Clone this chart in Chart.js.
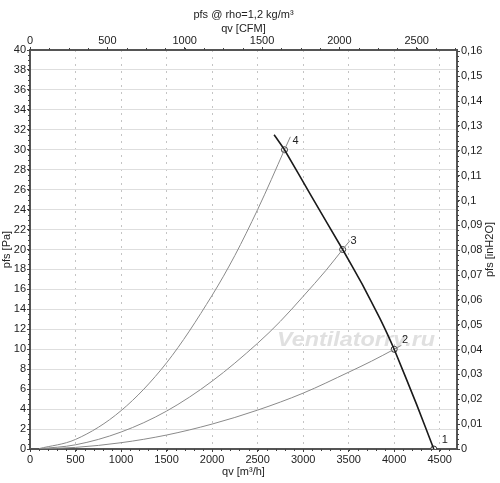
<!DOCTYPE html>
<html lang="ru">
<head>
    <meta charset="UTF-8">
    <title>pfs @ rho=1,2 kg/m³</title>
    <script src="https://cdn.jsdelivr.net/npm/chart.js"></script>
    <style>
        html, body {
            margin: 0;
            padding: 0;
            background: #fff;
        }

        .chart-box {
            width: 500px;
            height: 483px;
        }
    </style>
</head>
<body>
<div class="chart-box">
    <canvas id="fanChart" width="500" height="483"></canvas>
</div>
<script>
    // рабочая характеристика вентилятора (qv м3/ч, pfs Па)
    const fanQ = [2681, 2795, 3100, 3434, 3650, 3843, 4000, 4245, 4435];
    const fanP = [31.5, 30, 25.2, 20, 16.5, 13.1, 10, 4.5, 0];

    // кривые сети через точки 4, 3, 2
    const sys4Q = [100, 500, 1000, 1500, 2000, 2250, 2500, 2650, 2795, 2860];
    const sys4P = [0.04, 0.96, 3.84, 8.64, 15.4, 19.4, 24.0, 27.0, 30, 31.3];
    const sys3Q = [100, 500, 1000, 1500, 2000, 2500, 2750, 3000, 3250, 3434, 3515];
    const sys3P = [0.02, 0.42, 1.7, 3.8, 6.8, 10.6, 12.8, 15.3, 17.9, 20, 20.9];
    const sys2Q = [100, 500, 1000, 1500, 2000, 2500, 3000, 3500, 3750, 4000, 4080];
    const sys2P = [0.01, 0.16, 0.63, 1.4, 2.5, 3.9, 5.6, 7.7, 8.8, 10, 10.4];

    // рабочие точки
    const pointNames = ['1', '2', '3', '4'];
    const pointQ = [4435, 4000, 3434, 2795];
    const pointP = [0, 10, 20, 30];

    // деления осей
    const qvTicks = [0, 500, 1000, 1500, 2000, 2500, 3000, 3500, 4000, 4500];
    const cfmTicks = [0, 500, 1000, 1500, 2000, 2500];
    const paTicks = [0, 2, 4, 6, 8, 10, 12, 14, 16, 18, 20, 22, 24, 26, 28, 30, 32, 34, 36, 38, 40];
    const inH2OTicks = [0, 0.01, 0.02, 0.03, 0.04, 0.05, 0.06, 0.07, 0.08, 0.09, 0.1,
        0.11, 0.12, 0.13, 0.14, 0.15, 0.16];

    const qvMax = 4690;          // м3/ч
    const pfsMax = 40;           // Па
    const cfmPerM3h = 1 / 1.699;
    const inH2OPerPa = 1 / 249.09;

    const toXY = (qs, ps) => qs.map((q, i) => ({x: q, y: ps[i]}));
    const comma = v => String(Number(v.toFixed(3))).replace('.', ',');
    const tickFont = {family: 'Liberation Sans, Arial, sans-serif', size: 11};

    const fixSize = (w, h) => scale => {
        if (w) scale.width = w;
        if (h) scale.height = h;
    };
    const useTicks = list => scale => {
        scale.ticks = list.filter(v => v <= scale.max + 1e-9).map(v => ({value: v}));
    };

    // водяной знак, мелкие засечки и подписи точек
    const extras = {
        id: 'extras',
        beforeDatasetsDraw(chart) {
            const ctx = chart.ctx;
            ctx.save();
            ctx.font = 'italic bold 20px "Liberation Sans", Arial, sans-serif';
            const w = ctx.measureText('Ventilatorry.ru').width;
            ctx.translate(277, 346);
            ctx.scale(158 / w, 1);
            ctx.textBaseline = 'alphabetic';
            ctx.lineWidth = 2;
            ctx.strokeStyle = '#fff';
            ctx.fillStyle = '#e0e0e0';
            ctx.strokeText('Ventilatorry.ru', 0, 0);
            ctx.fillText('Ventilatorry.ru', 0, 0);
            ctx.restore();
        },
        afterDraw(chart) {
            const ctx = chart.ctx;
            const s = chart.scales;
            const a = chart.chartArea;
            ctx.save();
            ctx.strokeStyle = '#444';
            ctx.lineWidth = 1;
            ctx.beginPath();
            for (let v = 0; v <= qvMax; v += 100) {
                const px = Math.round(s.x.getPixelForValue(v)) + 0.5;
                ctx.moveTo(px, a.bottom);
                ctx.lineTo(px, a.bottom + 2);
            }
            for (let v = 0; v <= s.x2.max; v += 125) {
                const px = Math.round(s.x2.getPixelForValue(v)) + 0.5;
                ctx.moveTo(px, a.top);
                ctx.lineTo(px, a.top - 2);
            }
            for (let v = 0; v <= pfsMax; v += 0.5) {
                const py = Math.round(s.y.getPixelForValue(v)) + 0.5;
                ctx.moveTo(a.left, py);
                ctx.lineTo(a.left - 2, py);
            }
            for (let v = 0; v <= s.y2.max; v += 0.002) {
                const py = Math.round(s.y2.getPixelForValue(v)) + 0.5;
                ctx.moveTo(a.right, py);
                ctx.lineTo(a.right + 2, py);
            }
            ctx.stroke();

            ctx.fillStyle = '#222';
            ctx.font = '11px "Liberation Sans", Arial, sans-serif';
            ctx.textAlign = 'center';
            ctx.textBaseline = 'middle';
            pointNames.forEach((name, i) => {
                const px = s.x.getPixelForValue(pointQ[i]);
                const py = s.y.getPixelForValue(pointP[i]);
                ctx.fillText(name, px + 11, py - 9);
            });

            ctx.translate(490, (a.top + a.bottom) / 2);
            ctx.rotate(-Math.PI / 2);
            ctx.fillText('pfs [inH2O]', 0, 0);
            ctx.restore();
        }
    };

    const ctxFan = document.getElementById('fanChart').getContext('2d');
    new Chart(ctxFan, {
        type: 'scatter',
        data: {
            datasets: [
                {
                    label: 'Вентилятор',
                    data: toXY(fanQ, fanP),
                    showLine: true,
                    borderColor: '#1a1a1a',
                    borderWidth: 1.6,
                    pointRadius: 0,
                    tension: 0.1
                },
                {
                    label: 'Сеть 4',
                    data: toXY(sys4Q, sys4P),
                    showLine: true,
                    borderColor: '#8a8a8a',
                    borderWidth: 1,
                    pointRadius: 0,
                    cubicInterpolationMode: 'monotone'
                },
                {
                    label: 'Сеть 3',
                    data: toXY(sys3Q, sys3P),
                    showLine: true,
                    borderColor: '#8a8a8a',
                    borderWidth: 1,
                    pointRadius: 0,
                    cubicInterpolationMode: 'monotone'
                },
                {
                    label: 'Сеть 2',
                    data: toXY(sys2Q, sys2P),
                    showLine: true,
                    borderColor: '#8a8a8a',
                    borderWidth: 1,
                    pointRadius: 0,
                    cubicInterpolationMode: 'monotone'
                },
                {
                    label: 'Точки',
                    data: toXY(pointQ, pointP),
                    showLine: false,
                    pointRadius: 3,
                    pointBackgroundColor: '#fff',
                    pointBorderColor: '#333',
                    pointBorderWidth: 1
                }
            ]
        },
        options: {
            responsive: false,
            animation: false,
            layout: {padding: 0},
            plugins: {
                legend: {display: false},
                tooltip: {enabled: false}
            },
            scales: {
                x: {
                    type: 'linear',
                    position: 'bottom',
                    min: 0,
                    max: qvMax,
                    afterFit: fixSize(0, 34),
                    afterBuildTicks: useTicks(qvTicks),
                    ticks: {
                        maxRotation: 0,
                        autoSkip: false,
                        padding: 1,
                        color: '#222',
                        font: tickFont,
                        callback: v => String(v)
                    },
                    grid: {
                        color: '#c4c4c4',
                        lineWidth: 1,
                        tickColor: '#444',
                        tickLength: 3
                    },
                    border: {color: '#555', width: 2, dash: [2, 5]},
                    title: {
                        display: true,
                        text: 'qv [m³/h]',
                        color: '#222',
                        font: tickFont,
                        padding: {top: 0, bottom: 4}
                    }
                },
                x2: {
                    type: 'linear',
                    position: 'top',
                    min: 0,
                    max: qvMax * cfmPerM3h,
                    afterFit: fixSize(0, 50),
                    afterBuildTicks: useTicks(cfmTicks),
                    ticks: {
                        maxRotation: 0,
                        autoSkip: false,
                        padding: -1,
                        color: '#222',
                        font: tickFont,
                        callback: v => String(v)
                    },
                    grid: {
                        drawOnChartArea: false,
                        tickColor: '#444',
                        tickLength: 3
                    },
                    border: {color: '#555', width: 2},
                    title: {
                        display: true,
                        text: ['pfs @ rho=1,2 kg/m³', 'qv [CFM]'],
                        color: '#222',
                        font: {family: tickFont.family, size: 11, lineHeight: '14px'},
                        padding: {top: 8, bottom: 0}
                    }
                },
                y: {
                    type: 'linear',
                    position: 'left',
                    min: 0,
                    max: pfsMax,
                    afterFit: fixSize(30, 0),
                    afterBuildTicks: useTicks(paTicks),
                    ticks: {
                        autoSkip: false,
                        padding: 1,
                        color: '#222',
                        font: tickFont,
                        callback: v => String(v)
                    },
                    grid: {
                        color: '#dedede',
                        lineWidth: 1,
                        tickColor: '#444',
                        tickLength: 3
                    },
                    border: {color: '#555', width: 2},
                    title: {
                        display: true,
                        text: 'pfs [Pa]',
                        color: '#222',
                        font: tickFont,
                        padding: 0
                    }
                },
                y2: {
                    type: 'linear',
                    position: 'right',
                    min: 0,
                    max: pfsMax * inH2OPerPa,
                    afterFit: fixSize(43, 0),
                    afterBuildTicks: useTicks(inH2OTicks),
                    ticks: {
                        autoSkip: false,
                        padding: 1,
                        color: '#222',
                        font: tickFont,
                        callback: v => comma(v)
                    },
                    grid: {
                        drawOnChartArea: false,
                        tickColor: '#444',
                        tickLength: 3
                    },
                    border: {color: '#555', width: 2}
                }
            }
        },
        plugins: [extras]
    });
</script>
</body>
</html>
